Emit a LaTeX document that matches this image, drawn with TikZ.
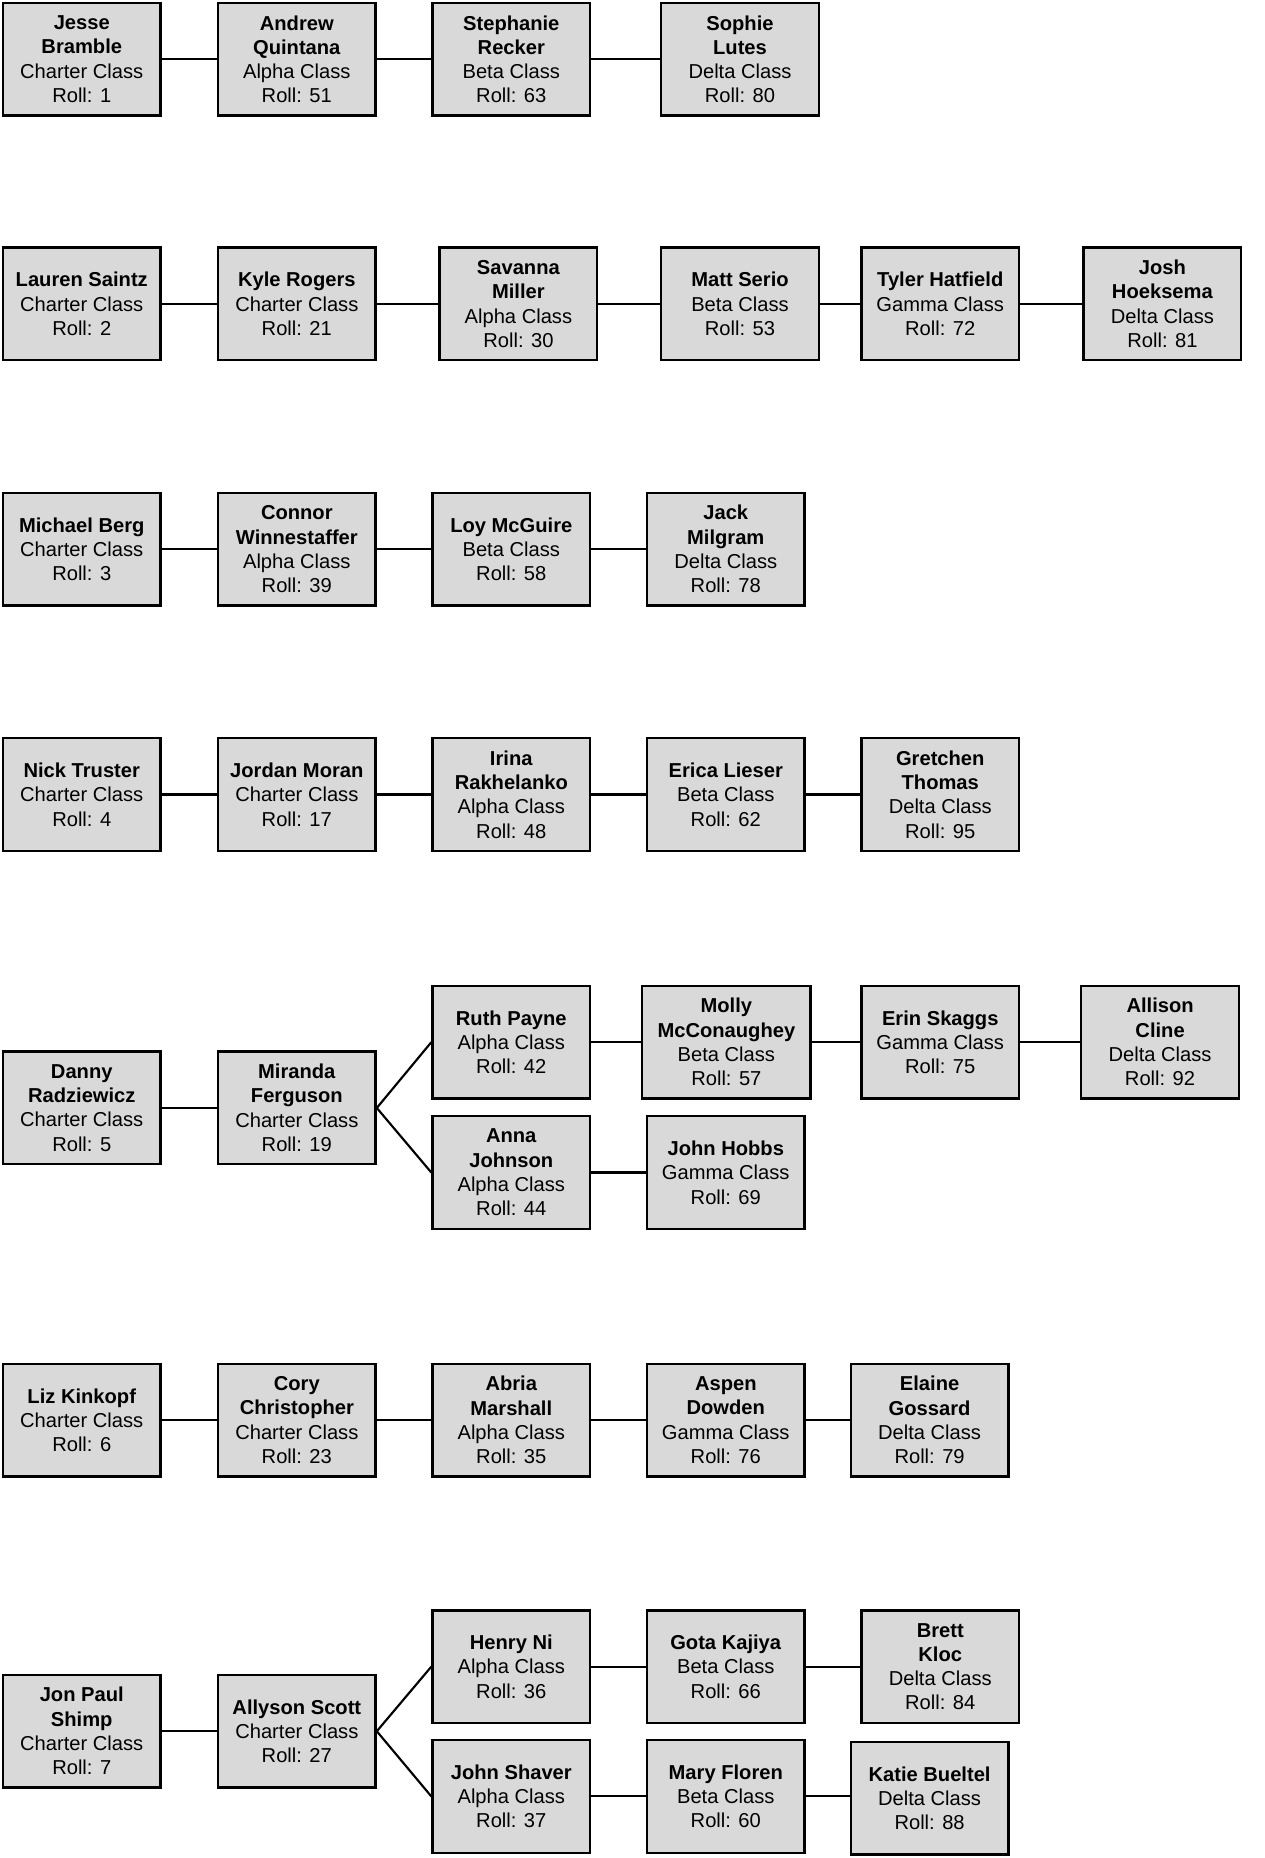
\documentclass[tikz,border=0pt]{standalone}
\usepackage{fontspec}
\setmainfont{Liberation Sans}
\definecolor{boxgray}{HTML}{D9D9D9}
\newcommand\pp[3]{\textbf{#1}\\#2\\Roll: #3}
\newcommand\pq[4]{\textbf{#1}\\\textbf{#2}\\#3\\Roll: #4}
\tikzset{
  pbox/.style={draw=black, line width=2pt, fill=boxgray, minimum width=133pt, minimum height=95pt,
    align=center, inner sep=0pt, font=\fontsize{17}{20.5}\selectfont},
  link/.style={draw=black, line width=1.8pt}
}
\begin{document}
\begin{tikzpicture}[x=1pt,y=-1pt]
\useasboundingbox (0,0) rectangle (1067,1568);
% Row 1
\node[pbox] (jesse) at (69,50) {\pq{Jesse}{Bramble}{Charter Class}{1}};
\node[pbox] (andrew) at (250.5,50) {\pq{Andrew}{Quintana}{Alpha Class}{51}};
\node[pbox] (stephanie) at (431.5,50) {\pq{Stephanie}{Recker}{Beta Class}{63}};
\node[pbox] (sophie) at (624.5,50) {\pq{Sophie}{Lutes}{Delta Class}{80}};
\draw[link] (jesse.east) -- (andrew.west);
\draw[link] (andrew.east) -- (stephanie.west);
\draw[link] (stephanie.east) -- (sophie.west);
% Row 2
\node[pbox] (lauren) at (69,256.5) {\pp{Lauren Saintz}{Charter Class}{2}};
\node[pbox] (kyle) at (250.5,256.5) {\pp{Kyle Rogers}{Charter Class}{21}};
\node[pbox] (savanna) at (437.5,256.5) {\pq{Savanna}{Miller}{Alpha Class}{30}};
\node[pbox] (matt) at (624.5,256.5) {\pp{Matt Serio}{Beta Class}{53}};
\node[pbox] (tyler) at (793.5,256.5) {\pp{Tyler Hatfield}{Gamma Class}{72}};
\node[pbox] (josh) at (981,256.5) {\pq{Josh}{Hoeksema}{Delta Class}{81}};
\draw[link] (lauren.east) -- (kyle.west);
\draw[link] (kyle.east) -- (savanna.west);
\draw[link] (savanna.east) -- (matt.west);
\draw[link] (matt.east) -- (tyler.west);
\draw[link] (tyler.east) -- (josh.west);
% Row 3
\node[pbox] (michael) at (69,463.5) {\pp{Michael Berg}{Charter Class}{3}};
\node[pbox] (connor) at (250.5,463.5) {\pq{Connor}{Winnestaffer}{Alpha Class}{39}};
\node[pbox] (loy) at (431.5,463.5) {\pp{Loy McGuire}{Beta Class}{58}};
\node[pbox] (jack) at (612.5,463.5) {\pq{Jack}{Milgram}{Delta Class}{78}};
\draw[link] (michael.east) -- (connor.west);
\draw[link] (connor.east) -- (loy.west);
\draw[link] (loy.east) -- (jack.west);
% Row 4
\node[pbox] (nick) at (69,670.5) {\pp{Nick Truster}{Charter Class}{4}};
\node[pbox] (jordan) at (250.5,670.5) {\pp{Jordan Moran}{Charter Class}{17}};
\node[pbox] (irina) at (431.5,670.5) {\pq{Irina}{Rakhelanko}{Alpha Class}{48}};
\node[pbox] (erica) at (612.5,670.5) {\pp{Erica Lieser}{Beta Class}{62}};
\node[pbox] (gretchen) at (793.5,670.5) {\pq{Gretchen}{Thomas}{Delta Class}{95}};
\draw[link] (nick.east) -- (jordan.west);
\draw[link] (jordan.east) -- (irina.west);
\draw[link] (irina.east) -- (erica.west);
\draw[link] (erica.east) -- (gretchen.west);
% Row 5
\node[pbox] (danny) at (69,935) {\pq{Danny}{Radziewicz}{Charter Class}{5}};
\node[pbox] (miranda) at (250.5,935) {\pq{Miranda}{Ferguson}{Charter Class}{19}};
\node[pbox] (ruth) at (431.5,879.5) {\pp{Ruth Payne}{Alpha Class}{42}};
\node[pbox, minimum width=142pt] (molly) at (613,879.5) {\pq{Molly}{McConaughey}{Beta Class}{57}};
\node[pbox] (erin) at (793.5,879.5) {\pp{Erin Skaggs}{Gamma Class}{75}};
\node[pbox] (allison) at (979,879.5) {\pq{Allison}{Cline}{Delta Class}{92}};
\node[pbox] (anna) at (431.5,989.5) {\pq{Anna}{Johnson}{Alpha Class}{44}};
\node[pbox] (hobbs) at (612.5,989.5) {\pp{John Hobbs}{Gamma Class}{69}};
\draw[link] (danny.east) -- (miranda.west);
\draw[link] (miranda.east) -- (ruth.west);
\draw[link] (miranda.east) -- (anna.west);
\draw[link] (ruth.east) -- (molly.west);
\draw[link] (molly.east) -- (erin.west);
\draw[link] (erin.east) -- (allison.west);
\draw[link] (anna.east) -- (hobbs.west);
% Row 6
\node[pbox] (liz) at (69,1198.5) {\pp{Liz Kinkopf}{Charter Class}{6}};
\node[pbox] (cory) at (250.5,1198.5) {\pq{Cory}{Christopher}{Charter Class}{23}};
\node[pbox] (abria) at (431.5,1198.5) {\pq{Abria}{Marshall}{Alpha Class}{35}};
\node[pbox] (aspen) at (612.5,1198.5) {\pq{Aspen}{Dowden}{Gamma Class}{76}};
\node[pbox] (elaine) at (784.5,1198.5) {\pq{Elaine}{Gossard}{Delta Class}{79}};
\draw[link] (liz.east) -- (cory.west);
\draw[link] (cory.east) -- (abria.west);
\draw[link] (abria.east) -- (aspen.west);
\draw[link] (aspen.east) -- (elaine.west);
% Row 7
\node[pbox] (jonpaul) at (69,1461) {\pq{Jon Paul}{Shimp}{Charter Class}{7}};
\node[pbox] (allyson) at (250.5,1461) {\pp{Allyson Scott}{Charter Class}{27}};
\node[pbox] (henry) at (431.5,1406.5) {\pp{Henry Ni}{Alpha Class}{36}};
\node[pbox] (gota) at (612.5,1406.5) {\pp{Gota Kajiya}{Beta Class}{66}};
\node[pbox] (brett) at (793.5,1406.5) {\pq{Brett}{Kloc}{Delta Class}{84}};
\node[pbox] (shaver) at (431.5,1516) {\pp{John Shaver}{Alpha Class}{37}};
\node[pbox] (mary) at (612.5,1516) {\pp{Mary Floren}{Beta Class}{60}};
\node[pbox] (katie) at (784.5,1517.5) {\pp{Katie Bueltel}{Delta Class}{88}};
\draw[link] (jonpaul.east) -- (allyson.west);
\draw[link] (allyson.east) -- (henry.west);
\draw[link] (allyson.east) -- (shaver.west);
\draw[link] (henry.east) -- (gota.west);
\draw[link] (gota.east) -- (brett.west);
\draw[link] (shaver.east) -- (mary.west);
\draw[link] (mary.east) -- (katie.west |- mary.east);
\end{tikzpicture}
\end{document}
